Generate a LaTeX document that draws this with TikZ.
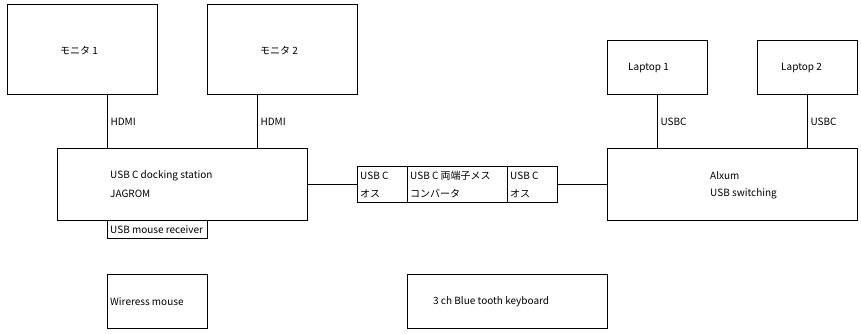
\documentclass[tikz,border=0pt]{standalone}
\usepackage{fontspec}
\setmainfont{Noto Sans CJK JP}
\begin{document}
\begin{tikzpicture}[x=1pt,y=-1pt,
  box/.style={draw=black,line width=1pt},
  lbl/.style={anchor=west,inner sep=0pt,font=\fontsize{10}{12}\selectfont},
  wire/.style={draw=black,line width=1pt}]
\useasboundingbox (0,0) rectangle (861,333);
% boxes
\draw[box] (7,4) rectangle (157,94);
\node[lbl,anchor=center] (m1) at (79,51) {モニタ 1};
\coordinate (m1b) at (107,94);
\draw[box] (207,4) rectangle (357,94);
\node[lbl,anchor=center] (m2) at (279,51) {モニタ 2};
\coordinate (m2b) at (257,94);
\draw[box] (57,148) rectangle (307,220);
\node[lbl] (d1) at (110,176) {USB C docking station};
\node[lbl] (d2) at (110,194) {JAGROM};
\coordinate (dt1) at (107,148);
\coordinate (dt2) at (257,148);
\coordinate (dr) at (307,184);
\draw[box] (107,220) rectangle (207,238);
\node[lbl] (rcv) at (110,230) {USB mouse receiver};
% adapter
\draw[box] (357,166) rectangle (557,202);
\draw[box] (407,166) -- (407,202);
\draw[box] (507,166) -- (507,202);
\coordinate (al) at (357,184);
\coordinate (ar) at (557,184);
\node[lbl] (a1) at (360,176) {USB C};
\node[lbl] (a2) at (360,194) {オス};
\node[lbl] (a3) at (410,176) {USB C 両端子メス};
\node[lbl] (a4) at (410,194) {コンバータ};
\node[lbl] (a5) at (510,176) {USB C};
\node[lbl] (a6) at (510,194) {オス};
% Alxum
\draw[box] (607,148) rectangle (857,220);
\node[lbl] (x1) at (710,176) {Alxum};
\node[lbl] (x2) at (710,194) {USB switching};
\coordinate (xl) at (607,184);
\coordinate (xt1) at (657,148);
\coordinate (xt2) at (807,148);
\draw[box] (607,40) rectangle (707,94);
\node[lbl] (l1) at (628,68) {Laptop 1};
\coordinate (l1b) at (657,94);
\draw[box] (757,40) rectangle (857,94);
\node[lbl] (l2) at (781,68) {Laptop 2};
\coordinate (l2b) at (807,94);
% bottom
\draw[box] (107,274) rectangle (207,328);
\node[lbl] (wm) at (110,302) {Wireress mouse};
\draw[box] (407,274) rectangle (607,328);
\node[lbl] (kb) at (433,302) {3 ch Blue tooth keyboard};
% wires
\draw[wire] (m1b) -- node[lbl,pos=0.5,xshift=3pt,yshift=-1pt] {HDMI} (dt1);
\draw[wire] (m2b) -- node[lbl,pos=0.5,xshift=3pt,yshift=-1pt] {HDMI} (dt2);
\draw[wire] (l1b) -- node[lbl,pos=0.5,xshift=3pt,yshift=-1pt] {USBC} (xt1);
\draw[wire] (l2b) -- node[lbl,pos=0.5,xshift=3pt,yshift=-1pt] {USBC} (xt2);
\draw[wire] (dr) -- (al);
\draw[wire] (ar) -- (xl);
\end{tikzpicture}
\end{document}
